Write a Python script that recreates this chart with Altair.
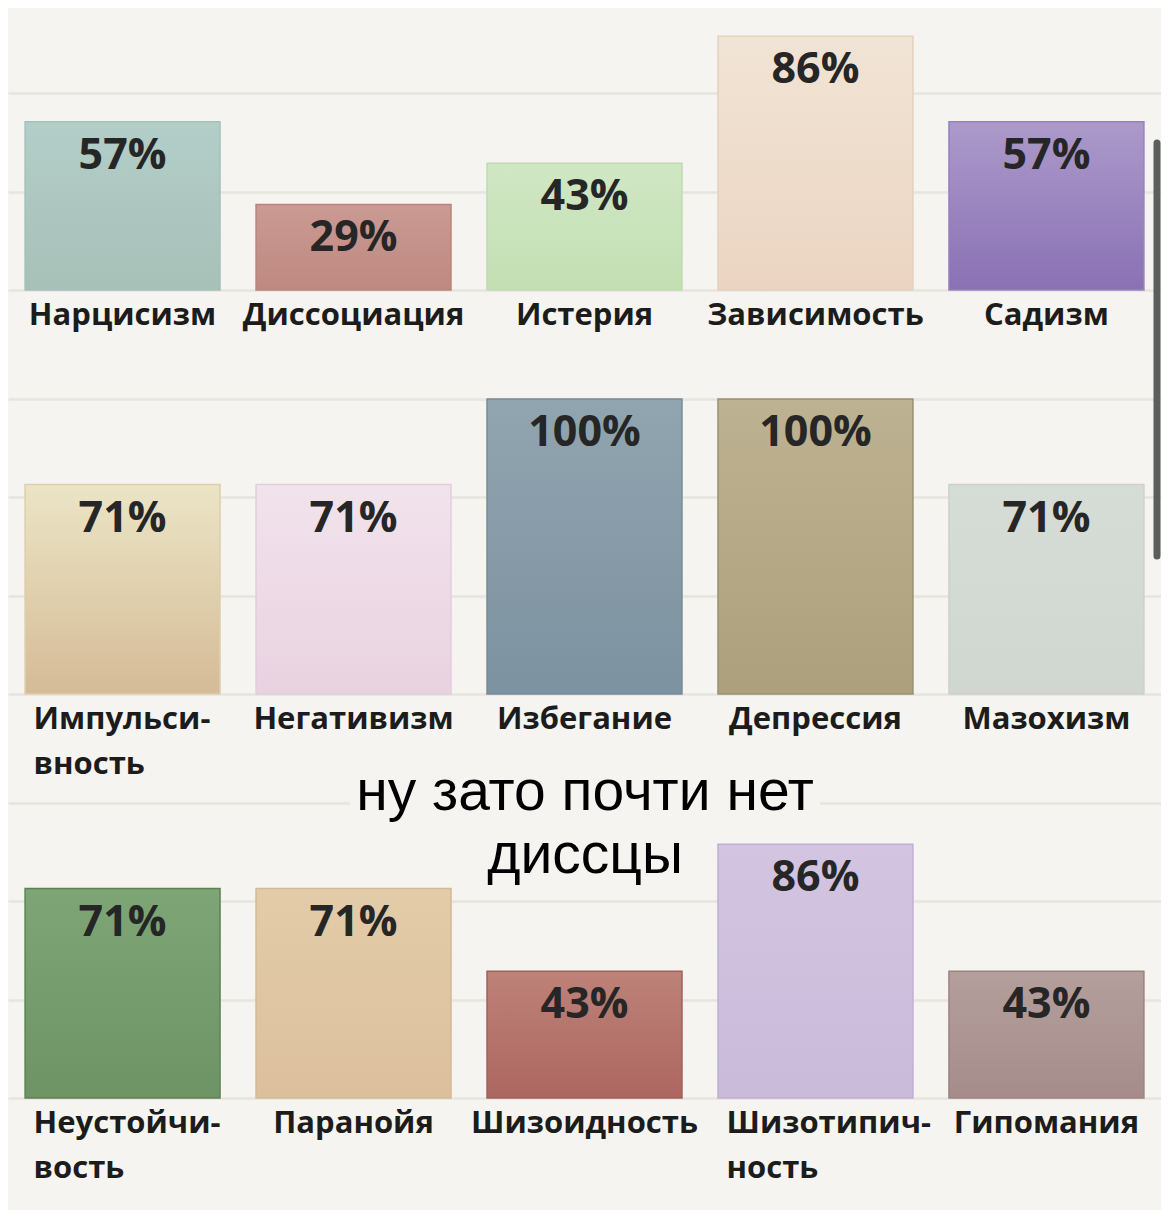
import altair as alt
import pandas as pd

# ---------------- data ----------------
row1_names = ["Нарцисизм", "Диссоциация", "Истерия", "Зависимость", "Садизм"]
row1_values = [57, 29, 43, 86, 57]
row2_names = ["Импульси-\nвность", "Негативизм", "Избегание", "Депрессия", "Мазохизм"]
row2_values = [71, 71, 100, 100, 71]
row3_names = ["Неустойчи-\nвость", "Паранойя", "Шизоидность", "Шизотипич-\nность", "Гипомания"]
row3_values = [71, 71, 43, 86, 43]

caption = "ну зато почти нет\nдиссцы"

# ---------------- styles ----------------
row1_top = ["#b3cec8", "#ca9a93", "#d0e7c4", "#f1e4d4", "#ac9aca"]
row1_bottom = ["#a7c0b8", "#be8981", "#c3dfb3", "#ebd5c2", "#8a71b4"]
row1_stroke = ["#a6c1ba", "#b8847d", "#bfdab0", "#e4d1bd", "#9582c0"]

row2_top = ["#ebe5c5", "#f1e3ec", "#90a5af", "#bdb291", "#d6dcd6"]
row2_bottom = ["#d5bb97", "#e9d2e0", "#7d92a0", "#ada07c", "#d0d6d0"]
row2_stroke = ["#dccfae", "#e3cddc", "#778b97", "#9a8f6f", "#cbd1cb"]

row3_top = ["#7ea575", "#e3cca9", "#bd8279", "#d3c4e1", "#b49f9d"]
row3_bottom = ["#6e9465", "#dcc09d", "#ac6660", "#cabbdb", "#a58c8a"]
row3_stroke = ["#5e8057", "#d3b994", "#a0605a", "#bfb0d2", "#9a8482"]

BG = "#f6f4f0"
GRID = "#e7e5e0"


def panel(names, values, tops, bottoms, strokes, ymax, grid_values):
    df = pd.DataFrame({"name": names, "value": values,
                       "label": [f"{v}%" for v in values]})
    multi = "indexof(datum.label, '\\n') >= 0"
    x = alt.X(
        "name:N", sort=names,
        scale=alt.Scale(paddingInner=0.156, paddingOuter=0.074),
        axis=alt.Axis(
            title=None, labelAngle=0, ticks=False, tickSize=0, domain=False,
            labelFont="Open Sans", labelFontWeight="bold", labelFontSize=31,
            labelColor="#1c1c1c", labelPadding=10, labelLineHeight=45,
            labelBaseline="top", labelLimit=0,
            labelExpr="split(datum.label, '\\n')",
            labelAlign={"condition": {"test": multi, "value": "left"}, "value": "center"},
            labelOffset={"condition": {"test": multi, "value": -89}, "value": 0},
        ),
    )
    y = alt.Y(
        "value:Q",
        scale=alt.Scale(domain=[0, ymax], nice=False, zero=True),
        axis=alt.Axis(values=grid_values, labels=False, ticks=False, domain=False,
                      title=None, grid=True, gridColor=GRID, gridWidth=2.5),
    )
    base = alt.Chart(df)
    layers = []
    for i, n in enumerate(names):
        grad = alt.Gradient(
            gradient="linear", x1=0, x2=0, y1=0, y2=1,
            stops=[alt.GradientStop(color=tops[i], offset=0),
                   alt.GradientStop(color=bottoms[i], offset=1)],
        )
        layers.append(
            base.mark_bar(color=grad, stroke=strokes[i], strokeWidth=1.5)
            .encode(x=x, y=y)
            .transform_filter(alt.FieldEqualPredicate(field="name", equal=n))
        )
    layers.append(
        base.mark_text(font="Open Sans", fontWeight="bold", fontSize=43,
                       baseline="alphabetic", dy=47, color="#262626")
        .encode(x=x, y=y, text="label:N")
    )
    return layers


l1 = panel(row1_names, row1_values, row1_top, row1_bottom, row1_stroke,
           95.6, [0, 33.33, 66.67])
l2 = panel(row2_names, row2_values, row2_top, row2_bottom, row2_stroke,
           100, [0, 33.33, 66.67, 100])
l3 = panel(row3_names, row3_values, row3_top, row3_bottom, row3_stroke,
           100, [0, 33.33, 66.67, 100])

# screenshot scrollbar decoration (drawn in the middle row, above row-1 marks)
scroll = alt.Chart(pd.DataFrame({"s": [1]})).mark_rule(
    color="#5b5f5c", strokeWidth=7, strokeCap="round"
).encode(x=alt.value(1149), y=alt.value(-256), y2=alt.value(157))

cap_df = pd.DataFrame({"t": [caption]})
cap_bg = alt.Chart(cap_df).mark_rect(color=BG).encode(
    x=alt.value(342), x2=alt.value(812), y=alt.value(-40), y2=alt.value(22)
)
cap_text = alt.Chart(cap_df).mark_text(
    font="Liberation Sans", fontSize=57, lineBreak="\n", lineHeight=63,
    align="center", baseline="alphabetic", color="#000000"
).encode(x=alt.value(577), y=alt.value(7), text="t:N")

W = 1153
r1 = alt.layer(*l1).properties(width=W, height=282)
r2 = alt.layer(*l2, scroll).properties(width=W, height=295)
r3 = alt.layer(*l3, cap_bg, cap_text).properties(width=W, height=295)

chart = (
    alt.vconcat(r1, r2, r3, spacing=109, bounds="flush")
    .properties(padding={"left": 0, "top": 0, "right": 0, "bottom": 95},
                background=BG)
    .configure_view(stroke=None)
)

chart.save("out.html", embed_options={"renderer": "svg", "actions": False})
